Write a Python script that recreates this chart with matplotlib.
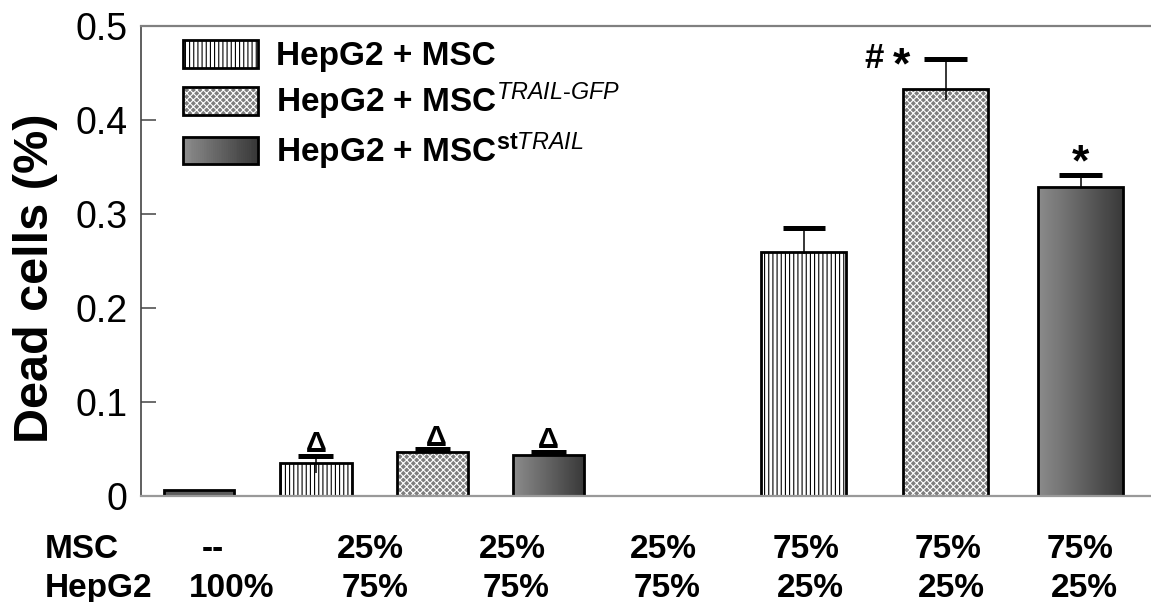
import numpy as np
import matplotlib
matplotlib.use('Agg')
import matplotlib.pyplot as plt
from matplotlib.patches import Patch, Rectangle
from matplotlib.colors import LinearSegmentedColormap
from matplotlib.legend_handler import HandlerBase

# dead cell fraction per co-culture, with SEM (upper / lower part drawn)
dead = [0.006, 0.035, 0.047, 0.044, 0.260, 0.433, 0.329]
err_up = [0.0, 0.0075, 0.0025, 0.003, 0.025, 0.032, 0.0125]
err_down = [0.0, 0.0105, 0.0, 0.0, 0.003, 0.012, 0.0]
kinds = ['solid', 'msc', 'gfp', 'st', 'msc', 'gfp', 'st']
msc_share = ['--', '25%', '25%', '25%', '75%', '75%', '75%']
hepg2_share = ['100%', '75%', '75%', '75%', '25%', '25%', '25%']
legend_labels = ['HepG2 + MSC',
                 r'HepG2 + MSC$^{\mathit{TRAIL}\text{-}\mathit{GFP}}$',
                 r'HepG2 + MSC$^{\mathbf{st}\mathit{TRAIL}}$']

# layout
xpos = [0, 1.004, 2.004, 3.0, 5.19, 6.41, 7.57]
widths = [0.60, 0.62, 0.61, 0.61, 0.73, 0.73, 0.73]
cap_w = [0, 0.30, 0.30, 0.30, 0.36, 0.37, 0.37]
msc_x = [213, 370, 512, 663, 806, 948, 1080]
hep_x = [232, 375, 516, 667, 810, 951, 1084]

plt.rcParams['font.family'] = ['Liberation Sans', 'DejaVu Sans']
plt.rcParams['mathtext.fontset'] = 'custom'
plt.rcParams['mathtext.rm'] = 'Liberation Sans'
plt.rcParams['mathtext.it'] = 'Liberation Sans:italic'
plt.rcParams['mathtext.bf'] = 'Liberation Sans:bold'
plt.rcParams['hatch.linewidth'] = 0.8

W, H = 1151, 602
fig = plt.figure(figsize=(W / 100, H / 100), dpi=100)
fig.set_facecolor('white')
ax = fig.add_axes([141 / W, 1 - 496 / H, 1010 / W, 470 / H])

grad_cmap = LinearSegmentedColormap.from_list('bargrad', ['#8c8c8c', '#383838'])
grad = np.linspace(0, 1, 256).reshape(1, -1)
dot_face = '#7e7e7e'

for i in range(len(dead)):
    x, h, w, k = xpos[i], dead[i], widths[i], kinds[i]
    if k == 'solid':
        ax.bar(x, h, w, color='#5c5c5c', lw=0)
    elif k == 'msc':
        ax.bar(x, h, w, color='white', edgecolor='black', hatch='||||', lw=0)
    elif k == 'gfp':
        ax.bar(x, h, w, color=dot_face, edgecolor='white', hatch='xxxxx', lw=0)
    else:
        b = ax.bar(x, h, w, color='none', lw=0)[0]
        im = ax.imshow(grad, cmap=grad_cmap, aspect='auto',
                       extent=[x - w / 2, x + w / 2, 0, h], zorder=1)
        im.set_clip_path(b)
    ax.bar(x, h, w, fill=False, edgecolor='black', lw=2, zorder=2)

    if err_up[i] > 0:
        ax.vlines(x, h - err_down[i], h + err_up[i], color='black', lw=1.1, zorder=3)
        ax.hlines(h + err_up[i], x - cap_w[i] / 2, x + cap_w[i] / 2,
                  color='black', lw=3.6, zorder=3)

# significance marks
for i in (1, 2, 3):
    ax.text(xpos[i] + (0.03 if i == 2 else 0), dead[i] + err_up[i] + 0.004, 'Δ',
            ha='center', va='baseline', fontsize=21, fontweight='bold')
ax.text(xpos[5] - 0.62, 0.4555, '#', ha='center', va='baseline',
        fontsize=25, fontweight='bold')
ax.text(xpos[5] - 0.38, 0.4445, '*', ha='center', va='baseline',
        fontsize=32, fontweight='bold')
ax.text(xpos[6], 0.3410, '*', ha='center', va='baseline',
        fontsize=32, fontweight='bold')

ax.set_xlim(-0.498, 8.172)
ax.set_ylim(0, 0.5)
ax.set_xticks([])
ax.set_yticks([0, 0.1, 0.2, 0.3, 0.4, 0.5])
ax.set_yticklabels(['0', '0.1', '0.2', '0.3', '0.4', '0.5'])
ax.tick_params(axis='y', direction='in', length=10.5, width=1.1, color='#444444',
               labelsize=27, pad=9.5)

ax.spines['right'].set_visible(False)
ax.spines['top'].set_color('#808080')
ax.spines['top'].set_linewidth(1.6)
ax.spines['left'].set_color('#444444')
ax.spines['left'].set_linewidth(1.2)
ax.spines['bottom'].set_color('#999999')
ax.spines['bottom'].set_linewidth(1.6)

ax.set_ylabel('Dead cells (%)', fontsize=35, fontweight='bold', ha='center', va='center')
ax.yaxis.set_label_coords(-0.104, 0.464)


class GradientHandler(HandlerBase):
    def create_artists(self, legend, orig_handle, xdescent, ydescent,
                       width, height, fontsize, trans):
        x0, y0 = -xdescent, -ydescent
        n = 40
        arts = []
        for j in range(n):
            arts.append(Rectangle((x0 + width * j / n, y0), width / n * 1.05, height,
                                  facecolor=grad_cmap(j / (n - 1)), edgecolor='none',
                                  transform=trans))
        arts.append(Rectangle((x0, y0), width, height, fill=False,
                              edgecolor='black', lw=2, transform=trans))
        return arts


h_msc = Patch(facecolor='white', edgecolor='black', hatch='||||', lw=2)
h_gfp = (Patch(facecolor=dot_face, edgecolor='white', hatch='xxxxx', lw=0),
         Patch(fill=False, edgecolor='black', lw=2))
h_st = Patch(facecolor='#5c5c5c')
ax.legend([h_msc, h_gfp, h_st], legend_labels,
          handler_map={h_st: GradientHandler()},
          loc='upper left', bbox_to_anchor=((183 - 141) / 1010, (496 - 40) / 470),
          frameon=False, borderpad=0, borderaxespad=0, handlelength=2.25,
          handleheight=0.9, handletextpad=0.55, labelspacing=0.25,
          prop={'weight': 'bold', 'size': 24})

# co-culture composition rows under the axis
fig.text(45 / W, 1 - 558 / H, 'MSC', ha='left', va='baseline', fontsize=24, fontweight='bold')
fig.text(45 / W, 1 - 597 / H, 'HepG2', ha='left', va='baseline', fontsize=24, fontweight='bold')
for i in range(len(msc_share)):
    fig.text(msc_x[i] / W, 1 - 558 / H, msc_share[i], ha='center', va='baseline',
             fontsize=24, fontweight='bold')
    fig.text(hep_x[i] / W, 1 - 597 / H, hepg2_share[i], ha='center', va='baseline',
             fontsize=24, fontweight='bold')

plt.savefig('out.png', dpi=100, facecolor='white')
